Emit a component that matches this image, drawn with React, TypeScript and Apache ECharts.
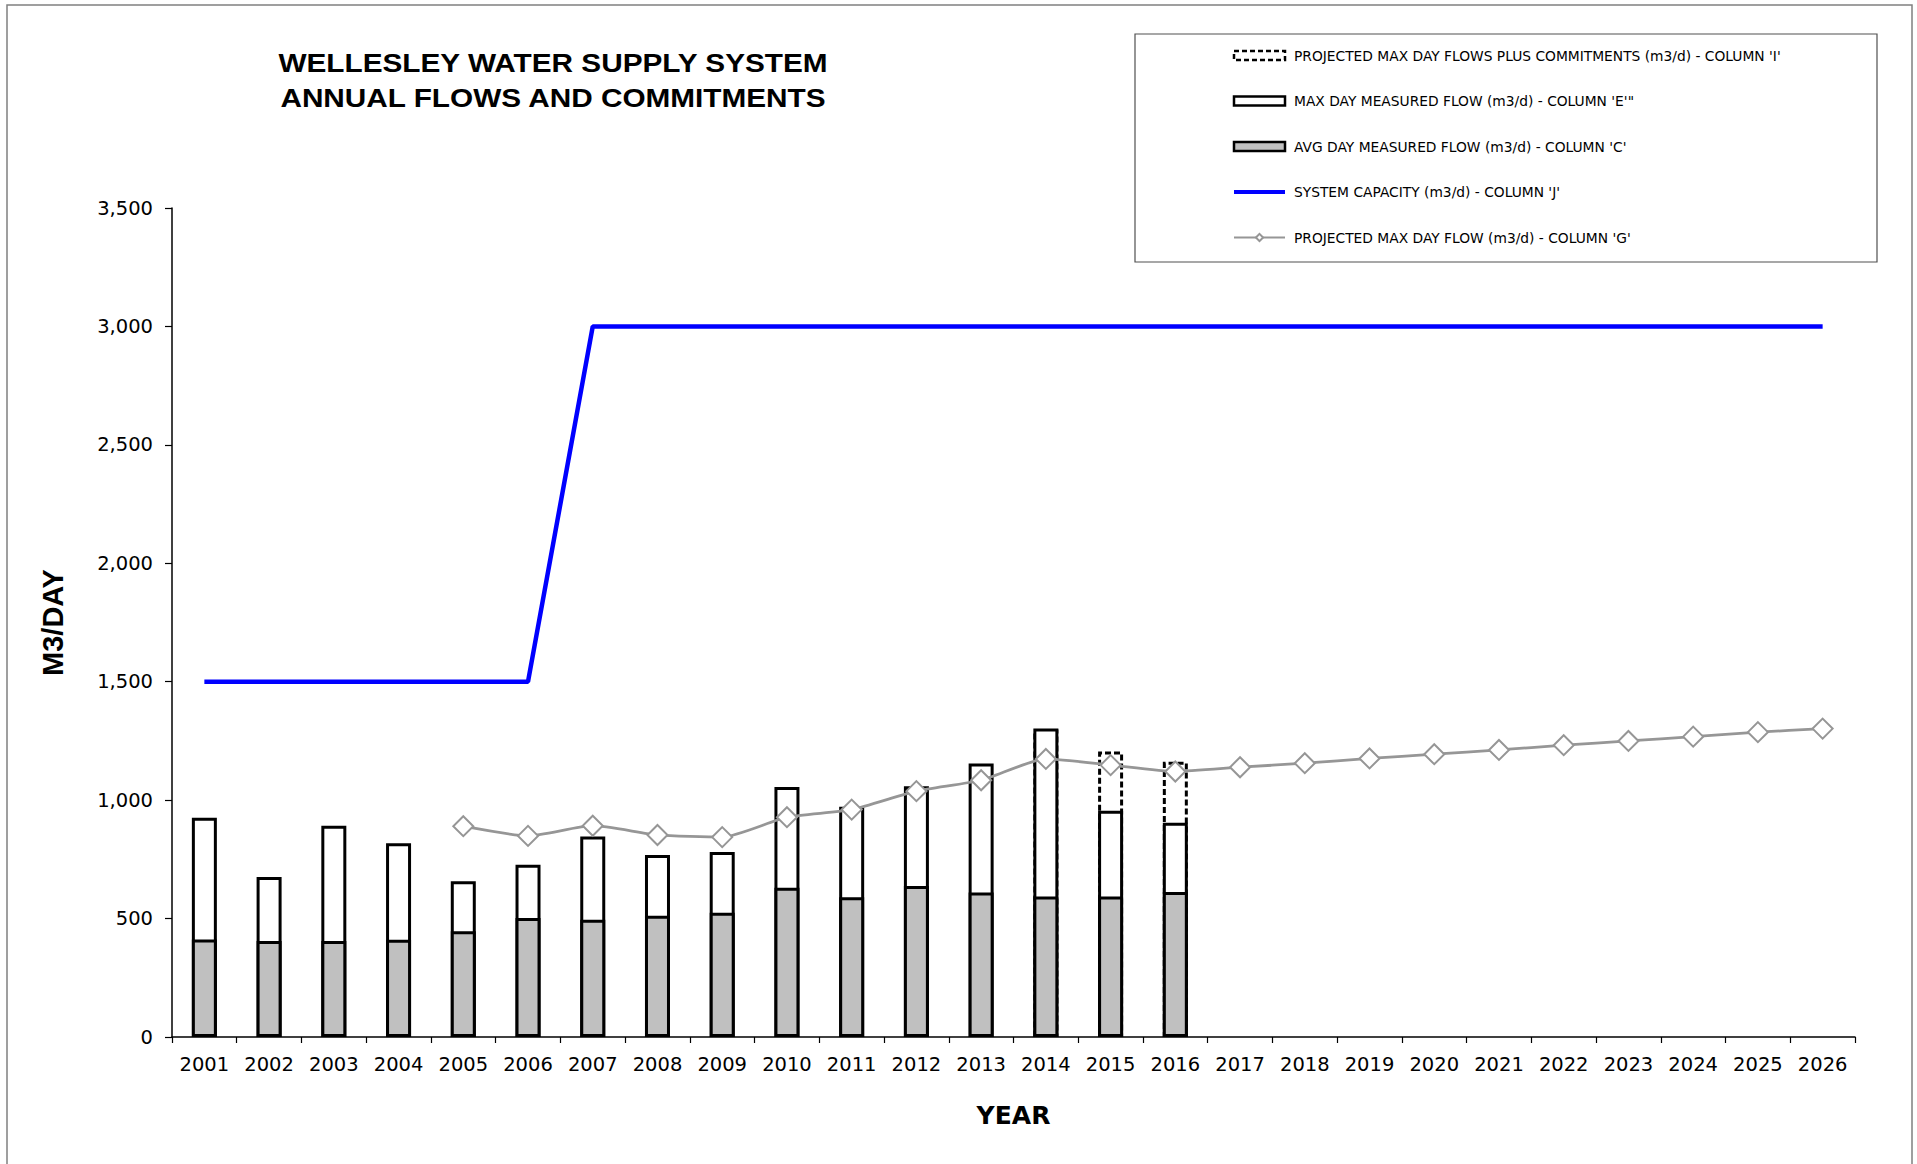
import { useEffect, useRef } from "react";
import * as echarts from "echarts";

const years = [
  "2001", "2002", "2003", "2004", "2005", "2006", "2007", "2008", "2009", "2010",
  "2011", "2012", "2013", "2014", "2015", "2016", "2017", "2018", "2019", "2020",
  "2021", "2022", "2023", "2024", "2025", "2026",
];

const commitmentsFlow = [
  null, null, null, null, null, null, null, null, null, null,
  null, null, null, 1298, 1205, 1162, null, null, null, null,
  null, null, null, null, null, null,
];

const maxDayFlow = [
  926, 675, 892, 818, 658, 727, 846, 768, 781, 1055,
  972, 1059, 1155, 1302, 955, 905, null, null, null, null,
  null, null, null, null, null, null,
];

const avgDayFlow = [
  412, 405, 405, 411, 446, 502, 495, 512, 525, 630,
  590, 637, 610, 593, 593, 612, null, null, null, null,
  null, null, null, null, null, null,
];

const systemCapacity = [
  1500, 1500, 1500, 1500, 1500, 1500, 3000, 3000, 3000, 3000,
  3000, 3000, 3000, 3000, 3000, 3000, 3000, 3000, 3000, 3000,
  3000, 3000, 3000, 3000, 3000, 3000,
];

const projectedMaxDayFlow = [
  null, null, null, null, 890, 849, 892, 853, 844, 928,
  960, 1038, 1084, 1174, 1148, 1121, 1139, 1156, 1176, 1194,
  1212, 1232, 1250, 1268, 1287, 1302,
];

const yTicks = { min: 0, max: 3500, interval: 500 };

const titleLines = ["WELLESLEY WATER SUPPLY SYSTEM", "ANNUAL FLOWS AND COMMITMENTS"];

const names = {
  commit: "PROJECTED MAX DAY FLOWS PLUS COMMITMENTS (m3/d) - COLUMN 'I'",
  max: "MAX DAY MEASURED FLOW (m3/d) - COLUMN 'E'\"",
  avg: "AVG DAY MEASURED FLOW (m3/d) - COLUMN 'C'",
  cap: "SYSTEM CAPACITY (m3/d) - COLUMN 'J'",
  proj: "PROJECTED MAX DAY FLOW (m3/d) - COLUMN 'G'",
};

export default function App() {
  const ref = useRef<HTMLDivElement>(null);

  useEffect(() => {
    if (!ref.current) return;
    const chart = echarts.init(ref.current, null, { renderer: "svg" });
    const tickFont = "DejaVu Sans";
    const barW = 25;
    const option: any = {
      animation: false,
      backgroundColor: "#ffffff",
      grid: {
        left: 172,
        right: 62,
        top: 208,
        bottom: 127,
        containLabel: false,
        outerBoundsMode: "none",
      },
      graphic: [
        {
          type: "rect",
          silent: true,
          shape: { x: 7, y: 5, width: 1905, height: 1175 },
          style: { fill: "none", stroke: "#808080", lineWidth: 1.5 },
        },
        {
          type: "rect",
          silent: true,
          shape: { x: 1135, y: 34, width: 742, height: 228 },
          style: { fill: "none", stroke: "#505050", lineWidth: 1.2 },
        },
        ...titleLines.map((t, i) => ({
          type: "text",
          x: 553,
          y: 63 + i * 35,
          scaleX: 1.19,
          style: {
            text: t,
            fontFamily: "Liberation Sans",
            fontWeight: "bold",
            fontSize: 25,
            fill: "#000",
            align: "center",
            verticalAlign: "middle",
            textAlign: "center",
            textVerticalAlign: "middle",
          },
        })),
      ],
      legend: {
        orient: "vertical",
        left: 1232,
        top: 48,
        padding: 0,
        itemWidth: 51,
        itemHeight: 9,
        itemGap: 30.5,
        selectedMode: false,
        textStyle: {
          fontFamily: tickFont,
          fontSize: 13.8,
          color: "#000",
          lineHeight: 15,
          padding: [0, 0, 0, 4],
        },
        data: [
          {
            name: names.commit,
            icon: "rect",
            itemStyle: { color: "#fff", borderColor: "#000", borderWidth: 2.5, borderType: [5, 3] },
          },
          {
            name: names.max,
            icon: "rect",
            itemStyle: { color: "#fff", borderColor: "#000", borderWidth: 2.5 },
          },
          {
            name: names.avg,
            icon: "rect",
            itemStyle: { color: "#C0C0C0", borderColor: "#000", borderWidth: 2.5 },
          },
          {
            name: names.cap,
            itemStyle: { color: "transparent", borderWidth: 0, opacity: 0 },
            lineStyle: { color: "#0000FF", width: 4, opacity: 1 },
          },
          { name: names.proj },
        ],
      },
      xAxis: {
        type: "category",
        data: years,
        boundaryGap: true,
        name: "YEAR",
        nameLocation: "middle",
        nameGap: 66,
        nameTextStyle: {
          fontFamily: tickFont,
          fontWeight: "bold",
          fontSize: 25,
          color: "#000",
        },
        axisLine: { show: true, lineStyle: { color: "#000", width: 1.5 } },
        axisTick: { show: true, length: 6, inside: false, lineStyle: { color: "#000", width: 1.2 } },
        axisLabel: {
          fontFamily: tickFont,
          fontSize: 19.5,
          color: "#000",
          margin: 17,
          interval: 0,
        },
        splitLine: { show: false },
      },
      yAxis: {
        type: "value",
        min: yTicks.min,
        max: yTicks.max,
        interval: yTicks.interval,
        name: "M3/DAY",
        nameLocation: "middle",
        nameRotate: 90,
        nameGap: 105,
        nameTextStyle: {
          fontFamily: "Liberation Sans",
          fontWeight: "bold",
          fontSize: 29,
          color: "#000",
        },
        axisLine: { show: true, lineStyle: { color: "#000", width: 1.5 } },
        axisTick: { show: true, length: 7, inside: false, lineStyle: { color: "#000", width: 1.2 } },
        axisLabel: {
          fontFamily: tickFont,
          fontSize: 19.5,
          color: "#000",
          margin: 19,
          formatter: (v: number) => v.toLocaleString("en-US"),
        },
        splitLine: { show: false },
      },
      series: [
        {
          name: names.commit,
          type: "bar",
          data: commitmentsFlow,
          barWidth: barW,
          barGap: "-100%",
          itemStyle: { color: "#ffffff", borderColor: "#000", borderWidth: 3, borderType: [6, 3] },
        },
        {
          name: names.max,
          type: "bar",
          data: maxDayFlow,
          barWidth: barW,
          barGap: "-100%",
          itemStyle: { color: "#ffffff", borderColor: "#000", borderWidth: 3 },
        },
        {
          name: names.avg,
          type: "bar",
          data: avgDayFlow,
          barWidth: barW,
          barGap: "-100%",
          itemStyle: { color: "#C0C0C0", borderColor: "#000", borderWidth: 3 },
        },
        {
          name: names.cap,
          type: "line",
          data: systemCapacity,
          symbol: "none",
          lineStyle: { color: "#0000FF", width: 4.5 },
          itemStyle: { color: "#0000FF" },
        },
        {
          name: names.proj,
          type: "line",
          data: projectedMaxDayFlow,
          smooth: 0.2,
          symbol: "diamond",
          symbolSize: 20,
          lineStyle: { color: "#969696", width: 2.8 },
          itemStyle: { color: "#ffffff", borderColor: "#969696", borderWidth: 2 },
        },
      ],
    };
    chart.setOption(option);
    return () => chart.dispose();
  }, []);

  return (
    <div
      ref={ref}
      style={{ position: "fixed", left: 0, top: 0, width: 1917, height: 1164, background: "#fff" }}
    />
  );
}
